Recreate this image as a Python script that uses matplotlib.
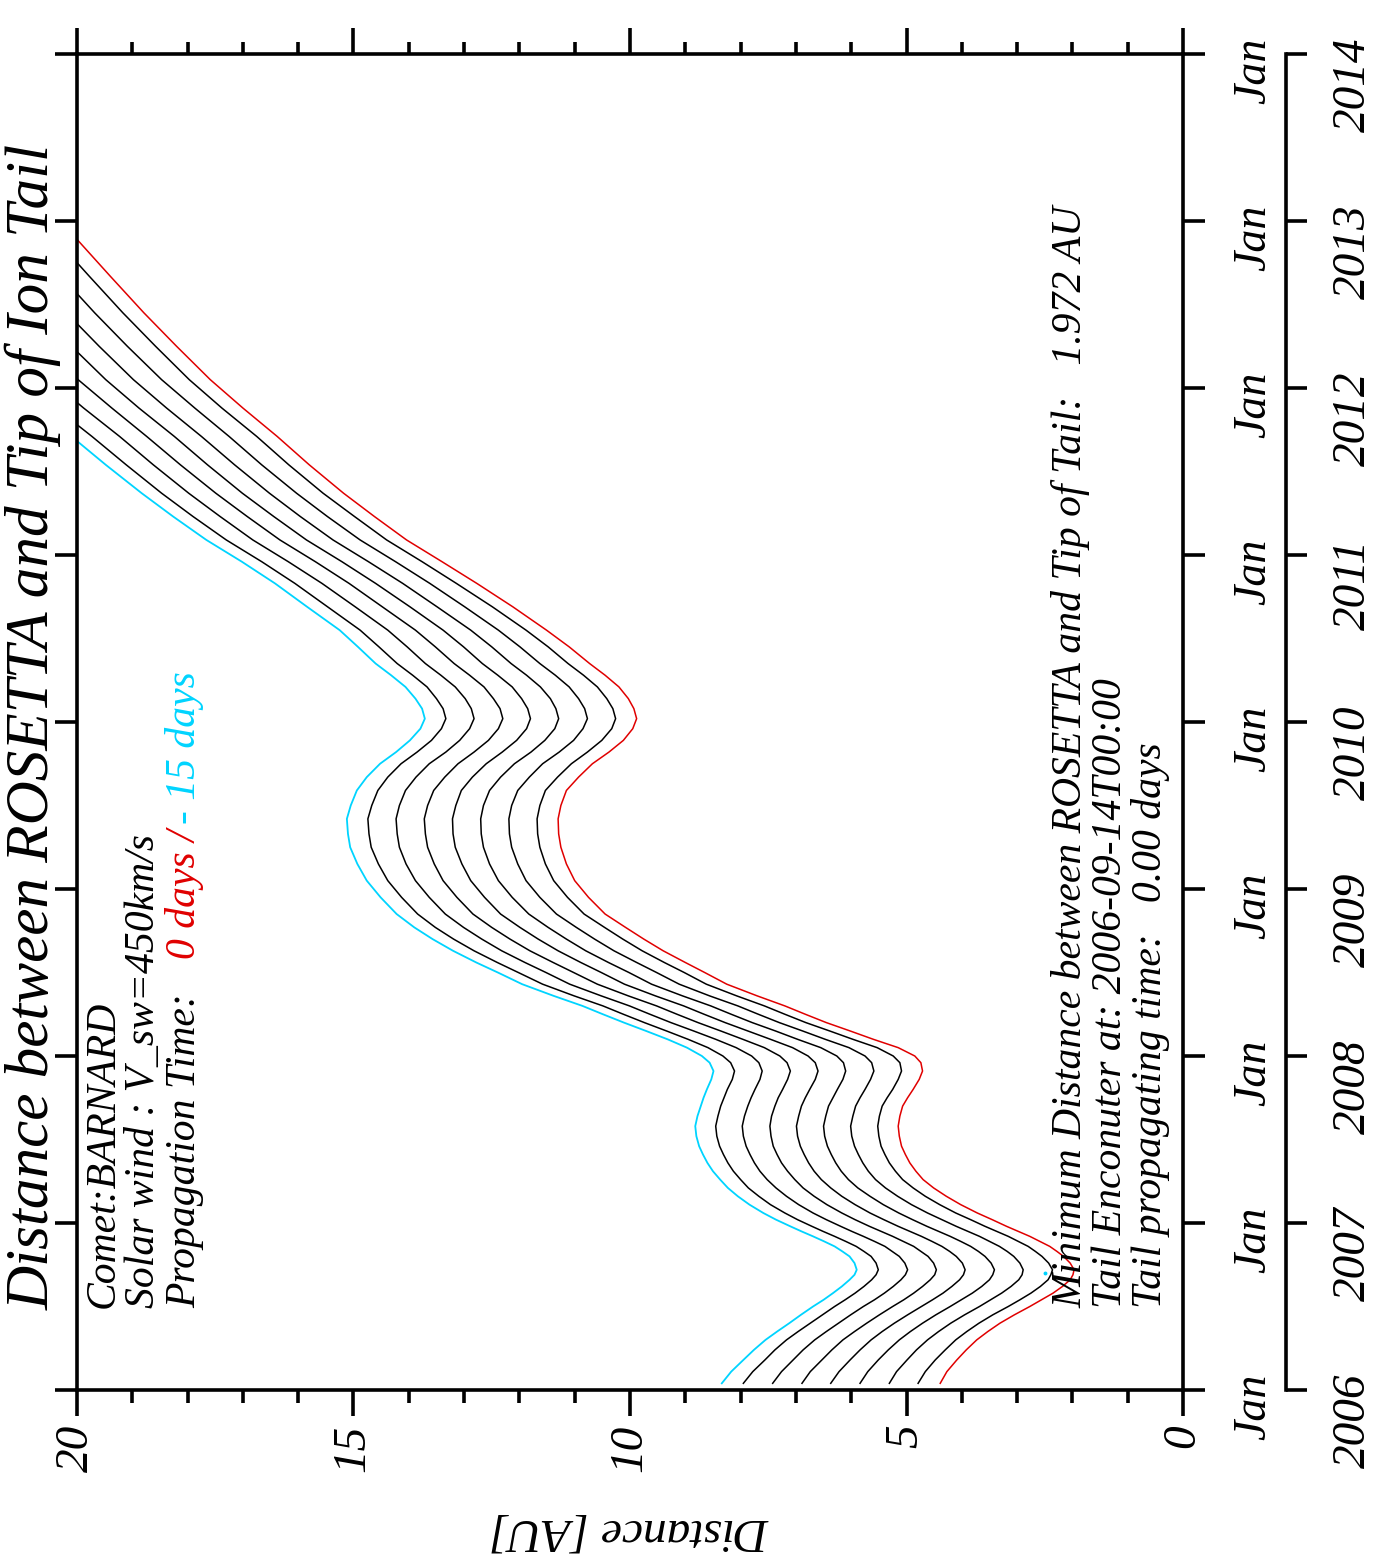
import numpy as np
import matplotlib
matplotlib.use("Agg")
import matplotlib.pyplot as plt
from matplotlib.ticker import MultipleLocator

# decimal year of each sample (time runs bottom -> top in the figure)
t_year = [2006.04, 2006.11, 2006.18, 2006.24, 2006.30, 2006.35, 2006.40, 2006.45, 2006.50, 2006.54,
          2006.58, 2006.62, 2006.66, 2006.69, 2006.72, 2006.76, 2006.80, 2006.83, 2006.86, 2006.89,
          2006.92, 2006.95, 2006.98, 2007.02, 2007.06, 2007.11, 2007.16, 2007.21, 2007.26, 2007.31,
          2007.36, 2007.41, 2007.46, 2007.52, 2007.58, 2007.64, 2007.70, 2007.75, 2007.80, 2007.86,
          2007.91, 2007.96, 2008.00, 2008.05, 2008.10, 2008.15, 2008.20, 2008.25, 2008.30, 2008.36,
          2008.43, 2008.50, 2008.56, 2008.63, 2008.70, 2008.77, 2008.85, 2008.95, 2009.05, 2009.15,
          2009.25, 2009.33, 2009.42, 2009.50, 2009.59, 2009.67, 2009.75, 2009.82, 2009.89, 2009.96,
          2010.02, 2010.08, 2010.14, 2010.21, 2010.28, 2010.35, 2010.45, 2010.55, 2010.69, 2010.83,
          2010.96, 2011.09, 2011.23, 2011.37, 2011.54, 2011.71, 2011.88, 2012.05, 2012.25, 2012.45,
          2012.67, 2012.89, 2013.10]

# distance [AU], propagation time 0 days (red)
dist_0d = [4.39, 4.27, 4.09, 3.92, 3.73, 3.53, 3.31, 3.05, 2.77, 2.56,
           2.35, 2.18, 2.04, 1.99, 1.97, 2.04, 2.16, 2.28, 2.41, 2.59,
           2.77, 2.98, 3.19, 3.45, 3.72, 4.02, 4.28, 4.51, 4.70, 4.83,
           4.94, 5.02, 5.09, 5.13, 5.15, 5.12, 5.07, 4.98, 4.88, 4.77,
           4.71, 4.74, 4.85, 5.15, 5.60, 6.02, 6.45, 6.83, 7.20, 7.70,
           8.25, 8.65, 9.00, 9.40, 9.75, 10.08, 10.45, 10.75, 11.00, 11.15,
           11.25, 11.29, 11.30, 11.25, 11.15, 10.93, 10.68, 10.38, 10.12, 9.95,
           9.88, 9.93, 10.03, 10.20, 10.45, 10.73, 11.10, 11.51, 12.12, 12.77,
           13.40, 14.04, 14.62, 15.18, 15.80, 16.38, 17.00, 17.59, 18.20, 18.79,
           19.40, 20.00, 20.58]

# propagation time -15 days (cyan)
dist_15d = [8.34, 8.17, 7.95, 7.76, 7.55, 7.34, 7.12, 6.91, 6.69, 6.50,
            6.33, 6.17, 6.03, 5.94, 5.90, 5.94, 6.03, 6.16, 6.30, 6.49,
            6.69, 6.90, 7.10, 7.36, 7.59, 7.84, 8.05, 8.23, 8.37, 8.50,
            8.60, 8.68, 8.75, 8.80, 8.82, 8.78, 8.72, 8.67, 8.61, 8.53,
            8.49, 8.56, 8.70, 8.97, 9.32, 9.71, 10.11, 10.49, 10.86, 11.38,
            11.95, 12.39, 12.78, 13.20, 13.57, 13.90, 14.22, 14.51, 14.76, 14.93,
            15.06, 15.10, 15.12, 15.05, 14.94, 14.76, 14.52, 14.23, 13.98, 13.79,
            13.71, 13.76, 13.88, 14.06, 14.32, 14.60, 14.92, 15.25, 15.84, 16.42,
            17.02, 17.66, 18.26, 18.83, 19.48, 20.10, 20.75, 21.37, 22.00, 22.60,
            23.20, 23.80, 24.40]

# intermediate propagation times (black), from 0 days towards -15 days
dist_mid = [
    [4.79, 4.66, 4.48, 4.30, 4.11, 3.91, 3.69, 3.44, 3.16, 2.95,
     2.75, 2.58, 2.44, 2.39, 2.36, 2.43, 2.55, 2.67, 2.80, 2.98,
     3.16, 3.37, 3.58, 3.84, 4.11, 4.40, 4.66, 4.88, 5.07, 5.20,
     5.31, 5.39, 5.46, 5.50, 5.52, 5.49, 5.44, 5.35, 5.25, 5.15,
     5.09, 5.12, 5.24, 5.53, 5.97, 6.39, 6.82, 7.20, 7.57, 8.07,
     8.62, 9.02, 9.38, 9.78, 10.13, 10.46, 10.83, 11.13, 11.38, 11.53,
     11.63, 11.67, 11.68, 11.63, 11.53, 11.31, 11.06, 10.77, 10.51, 10.33,
     10.26, 10.31, 10.42, 10.59, 10.84, 11.12, 11.48, 11.88, 12.49, 13.14,
     13.76, 14.40, 14.98, 15.55, 16.17, 16.75, 17.38, 17.97, 18.58, 19.17,
     19.78, 20.38, 20.96],
    [5.31, 5.18, 4.99, 4.82, 4.62, 4.42, 4.20, 3.95, 3.68, 3.48,
     3.28, 3.11, 2.97, 2.91, 2.89, 2.95, 3.06, 3.18, 3.32, 3.50,
     3.68, 3.89, 4.10, 4.36, 4.62, 4.91, 5.16, 5.38, 5.56, 5.69,
     5.79, 5.87, 5.94, 5.99, 6.01, 5.97, 5.92, 5.84, 5.75, 5.65,
     5.59, 5.63, 5.75, 6.04, 6.47, 6.88, 7.30, 7.68, 8.05, 8.56,
     9.11, 9.52, 9.88, 10.29, 10.64, 10.97, 11.33, 11.63, 11.88, 12.03,
     12.14, 12.18, 12.19, 12.14, 12.03, 11.82, 11.58, 11.28, 11.02, 10.85,
     10.77, 10.82, 10.93, 11.10, 11.35, 11.63, 11.99, 12.38, 12.99, 13.62,
     14.24, 14.88, 15.47, 16.03, 16.66, 17.25, 17.87, 18.47, 19.09, 19.68,
     20.29, 20.89, 21.47],
    [5.84, 5.70, 5.51, 5.33, 5.13, 4.93, 4.71, 4.47, 4.21, 4.01,
     3.81, 3.64, 3.50, 3.44, 3.41, 3.47, 3.58, 3.70, 3.84, 4.02,
     4.21, 4.42, 4.63, 4.89, 5.14, 5.42, 5.66, 5.88, 6.05, 6.18,
     6.28, 6.36, 6.43, 6.48, 6.50, 6.46, 6.41, 6.33, 6.25, 6.15,
     6.10, 6.14, 6.26, 6.55, 6.97, 7.37, 7.79, 8.17, 8.54, 9.05,
     9.61, 10.02, 10.39, 10.80, 11.15, 11.48, 11.83, 12.13, 12.38, 12.54,
     12.65, 12.69, 12.70, 12.65, 12.54, 12.34, 12.09, 11.79, 11.54, 11.36,
     11.29, 11.34, 11.44, 11.62, 11.87, 12.15, 12.50, 12.88, 13.49, 14.11,
     14.73, 15.37, 15.96, 16.52, 17.15, 17.75, 18.38, 18.98, 19.60, 20.19,
     20.80, 21.40, 21.98],
    [6.37, 6.22, 6.02, 5.84, 5.64, 5.44, 5.22, 4.98, 4.73, 4.53,
     4.34, 4.18, 4.04, 3.97, 3.94, 3.99, 4.10, 4.22, 4.36, 4.54,
     4.73, 4.94, 5.15, 5.41, 5.66, 5.93, 6.17, 6.37, 6.54, 6.67,
     6.77, 6.85, 6.92, 6.97, 6.99, 6.95, 6.90, 6.83, 6.75, 6.65,
     6.60, 6.65, 6.78, 7.06, 7.46, 7.87, 8.28, 8.66, 9.03, 9.54,
     10.10, 10.52, 10.89, 11.30, 11.66, 11.99, 12.34, 12.63, 12.88, 13.04,
     13.16, 13.20, 13.21, 13.15, 13.05, 12.85, 12.60, 12.31, 12.05, 11.87,
     11.80, 11.85, 11.96, 12.13, 12.39, 12.67, 13.01, 13.38, 13.98, 14.60,
     15.21, 15.85, 16.44, 17.01, 17.64, 18.24, 18.88, 19.48, 20.10, 20.69,
     21.30, 21.90, 22.48],
    [6.89, 6.74, 6.53, 6.35, 6.15, 5.94, 5.72, 5.49, 5.25, 5.05,
     4.87, 4.71, 4.57, 4.49, 4.46, 4.51, 4.61, 4.74, 4.87, 5.06,
     5.25, 5.46, 5.67, 5.93, 6.17, 6.44, 6.67, 6.87, 7.02, 7.15,
     7.26, 7.34, 7.41, 7.45, 7.47, 7.44, 7.38, 7.32, 7.24, 7.15,
     7.10, 7.16, 7.29, 7.57, 7.96, 8.36, 8.77, 9.15, 9.52, 10.03,
     10.59, 11.02, 11.39, 11.81, 12.17, 12.50, 12.84, 13.13, 13.38, 13.54,
     13.66, 13.70, 13.72, 13.66, 13.55, 13.35, 13.11, 12.82, 12.56, 12.38,
     12.30, 12.35, 12.47, 12.64, 12.90, 13.18, 13.52, 13.88, 14.48, 15.08,
     15.69, 16.33, 16.92, 17.49, 18.13, 18.74, 19.37, 19.98, 20.61, 21.20,
     21.81, 22.41, 22.99],
    [7.42, 7.26, 7.05, 6.87, 6.66, 6.45, 6.23, 6.01, 5.78, 5.58,
     5.40, 5.24, 5.10, 5.02, 4.98, 5.03, 5.13, 5.26, 5.39, 5.58,
     5.78, 5.99, 6.19, 6.45, 6.69, 6.95, 7.17, 7.36, 7.52, 7.65,
     7.75, 7.83, 7.90, 7.95, 7.97, 7.93, 7.87, 7.81, 7.74, 7.65,
     7.61, 7.67, 7.80, 8.08, 8.45, 8.85, 9.26, 9.64, 10.01, 10.52,
     11.09, 11.52, 11.90, 12.32, 12.68, 13.01, 13.34, 13.63, 13.88, 14.05,
     14.17, 14.21, 14.23, 14.17, 14.06, 13.87, 13.63, 13.33, 13.08, 12.90,
     12.82, 12.87, 12.98, 13.16, 13.42, 13.70, 14.03, 14.38, 14.97, 15.57,
     16.18, 16.82, 17.41, 17.98, 18.62, 19.23, 19.88, 20.49, 21.12, 21.71,
     22.32, 22.92, 23.50],
    [7.95, 7.78, 7.56, 7.38, 7.17, 6.96, 6.74, 6.52, 6.30, 6.11,
     5.93, 5.77, 5.63, 5.55, 5.51, 5.55, 5.64, 5.77, 5.91, 6.10,
     6.30, 6.51, 6.71, 6.97, 7.20, 7.46, 7.67, 7.86, 8.00, 8.13,
     8.23, 8.31, 8.38, 8.43, 8.45, 8.41, 8.36, 8.30, 8.24, 8.15,
     8.11, 8.18, 8.32, 8.59, 8.95, 9.34, 9.74, 10.12, 10.49, 11.01,
     11.58, 12.02, 12.40, 12.82, 13.19, 13.52, 13.84, 14.13, 14.38, 14.55,
     14.68, 14.72, 14.74, 14.67, 14.56, 14.38, 14.14, 13.85, 13.59, 13.41,
     13.33, 13.38, 13.50, 13.67, 13.93, 14.21, 14.54, 14.88, 15.47, 16.06,
     16.66, 17.30, 17.90, 18.47, 19.11, 19.73, 20.38, 20.99, 21.62, 22.21,
     22.82, 23.42, 24.00],
]

# small cyan dot near the closest approach
dot_dist = [2.50]
dot_year = [2006.70]

years = [2006, 2007, 2008, 2009, 2010, 2011, 2012, 2013, 2014]

RED = "#e00000"
CYAN = "#00d4ff"
LW_AX = 2.6

plt.rcParams['font.family'] = ['Liberation Serif', 'DejaVu Serif']
plt.rcParams['font.style'] = 'italic'

W, H = 1387, 1555
fig = plt.figure(figsize=(W / 100, H / 100), dpi=100)
ax = fig.add_axes([77 / W, 1 - 1390 / H, (1183 - 77) / W, (1390 - 54) / H])

for d in dist_mid:
    ax.plot(d, t_year, color="black", lw=1.1)
ax.plot(dist_15d, t_year, color=CYAN, lw=1.3)
ax.plot(dist_0d, t_year, color=RED, lw=1.1)
ax.plot(dot_dist, dot_year, 'o', color=CYAN, ms=1.8)

ax.set_xlim(20, 0)
ax.set_ylim(2006, 2014)
for s in ax.spines.values():
    s.set_linewidth(LW_AX)

ax.xaxis.set_major_locator(MultipleLocator(5))
ax.xaxis.set_minor_locator(MultipleLocator(1))
ax.tick_params(axis='x', which='both', direction='out', top=True, bottom=True,
               labeltop=False, width=LW_AX)
ax.tick_params(axis='x', which='major', length=19, pad=6, labelsize=34, labelrotation=90)
ax.tick_params(axis='x', which='minor', length=9)

ax.set_yticks(years)
ax.set_yticklabels(['Jan'] * len(years))
ax.tick_params(axis='y', direction='out', left=True, right=True, labelleft=False,
               labelright=True, length=16, width=LW_AX, labelrotation=90,
               pad=20, labelsize=33)

# second scale with the year numbers
ax2 = fig.add_axes([1285 / W, 1 - 1390 / H, 0.0004, (1390 - 54) / H])
ax2.set_ylim(2006, 2014)
ax2.patch.set_visible(False)
for k in ['left', 'top', 'bottom']:
    ax2.spines[k].set_visible(False)
ax2.spines['right'].set_linewidth(LW_AX)
ax2.set_xticks([])
ax2.yaxis.tick_right()
ax2.set_yticks(years)
ax2.set_yticklabels([str(y) for y in years])
ax2.tick_params(axis='y', direction='out', length=15, width=LW_AX, labelrotation=90,
                pad=19, labelsize=34)

fig.text(630 / W, 1 - 1530 / H, 'Distance [AU]', rotation=180, ha='center',
         va='center', fontsize=34)

fig.text(33 / W, 1 - 1310 / H, 'Distance between ROSETTA and Tip of Ion Tail',
         rotation=90, ha='center', va='bottom', fontsize=44)

renderer = fig.canvas.get_renderer()


def rot_line(xpix, ystart, pieces, size=30):
    # pieces drawn one after another, reading bottom to top
    y = 1 - ystart / H
    for s, c, gap in pieces:
        y += gap / H
        txt = fig.text(xpix / W, y, s, rotation=90, ha='center', va='bottom',
                       fontsize=size, color=c)
        bb = txt.get_window_extent(renderer)
        y = bb.y1 / H


rot_line(103, 1308, [('Comet:BARNARD', 'black', 0)])
rot_line(144, 1308, [('Solar wind : V_sw=450km/s', 'black', 0)])
rot_line(185, 1308, [('Propagation Time:', 'black', 0),
                     ('0 days /', RED, 34),
                     ('- 15 days', CYAN, 6)])

rot_line(1071, 1308, [('Minimum Distance between ROSETTA and Tip of Tail:   1.972 AU', 'black', 0)])
rot_line(1111, 1308, [('Tail Enconuter at: 2006-09-14T00:00', 'black', 0)])
rot_line(1151, 1308, [('Tail propagating time:   0.00 days', 'black', 0)])

fig.savefig("out.png", dpi=100)
